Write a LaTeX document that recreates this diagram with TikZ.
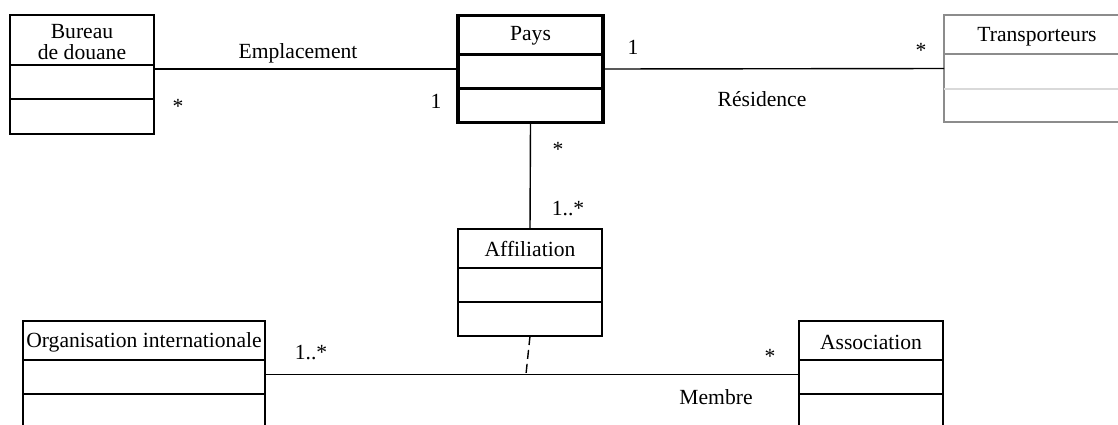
\documentclass[tikz,border=0pt]{standalone}
\usepackage{fontspec}
\setmainfont{Liberation Serif}
\begin{document}
\begin{tikzpicture}[x=1pt,y=-1pt,
  cls/.style={draw=black,line width=1.5pt,inner sep=0pt,outer sep=0pt,fill=white},
  thickcls/.style={cls,line width=3.5pt},
  paleclass/.style={cls,draw=black!45,line width=1.2pt},
  assoc/.style={line width=1.4pt},
  lbl/.style={font=\fontsize{21.6}{24}\selectfont,inner sep=0pt},
  sep/.style={line width=1.5pt}]
\useasboundingbox (0,0) rectangle (1118,424);
\clip (0,0) rectangle (1118,424);

% classes
\node[cls,minimum width=144pt,minimum height=119pt] (bureau) at (82,74.5) {};
\node[thickcls,minimum width=145pt,minimum height=107pt] (pays) at (530.5,69) {};
\node[paleclass,minimum width=186pt,minimum height=107pt] (trans) at (1037,68.5) {};
\node[cls,minimum width=144pt,minimum height=107pt] (affil) at (530,282.5) {};
\node[cls,minimum width=242pt,minimum height=107pt] (orga) at (144,374.5) {};
\node[cls,minimum width=144pt,minimum height=107pt] (asso) at (871,374.5) {};

% compartment separators
\draw[sep] (bureau.west |- 0,65) -- (bureau.east |- 0,65);
\draw[sep] (bureau.west |- 0,99) -- (bureau.east |- 0,99);
\draw[line width=3pt] (pays.west |- 0,54) -- (pays.east |- 0,54);
\draw[line width=3pt] (pays.west |- 0,88) -- (pays.east |- 0,88);
\draw[line width=1.2pt,black!45] (trans.west |- 0,54) -- (trans.east |- 0,54);
\draw[line width=1.2pt,black!15] (trans.west |- 0,89) -- (trans.east |- 0,89);
\draw[sep] (affil.west |- 0,268) -- (affil.east |- 0,268);
\draw[sep] (affil.west |- 0,302) -- (affil.east |- 0,302);
\draw[sep] (orga.west |- 0,360) -- (orga.east |- 0,360);
\draw[sep] (orga.west |- 0,394) -- (orga.east |- 0,394);
\draw[sep] (asso.west |- 0,360) -- (asso.east |- 0,360);
\draw[sep] (asso.west |- 0,394) -- (asso.east |- 0,394);

% class names
\node[lbl,align=center] (tbureau) at (82,42) {Bureau\\[-3pt]de douane};
\node[lbl] (tpays) at (530.5,36) {Pays};
\node[lbl] (ttrans) at (1037,37) {Transporteurs};
\node[lbl] (taffil) at (530,249) {Affiliation};
\node[lbl] (torga) at (144,342) {Organisation internationale};
\node[lbl] (tasso) at (871,342) {Association};

% associations
\draw[assoc] (pays.west) -- (pays.west -| bureau.east);
\draw[assoc] (pays.east) -- (trans.west);
\draw[assoc] (pays.south) -- (affil.north);
\draw[assoc] (orga.east) -- (asso.west);
\coordinate (mid) at (526,374);
\draw[assoc,dash pattern=on 9pt off 5pt] (affil.south) -- (mid);

% association names and multiplicities
\node[lbl] (nemp) at (298,53) {Emplacement};
\node[lbl] (nres) at (762,99) {Résidence};
\node[lbl] (nmem) at (716,397) {Membre};
\node[lbl] (m1) at (178,106) {*};
\node[lbl] (m2) at (436,101) {1};
\node[lbl] (m3) at (633,47) {1};
\node[lbl] (m4) at (921,50) {*};
\node[lbl] (m5) at (558,149) {*};
\node[lbl] (m6) at (568,209) {1..*};
\node[lbl] (m7) at (311,353) {1..*};
\node[lbl] (m8) at (770,356) {*};
\end{tikzpicture}
\end{document}
